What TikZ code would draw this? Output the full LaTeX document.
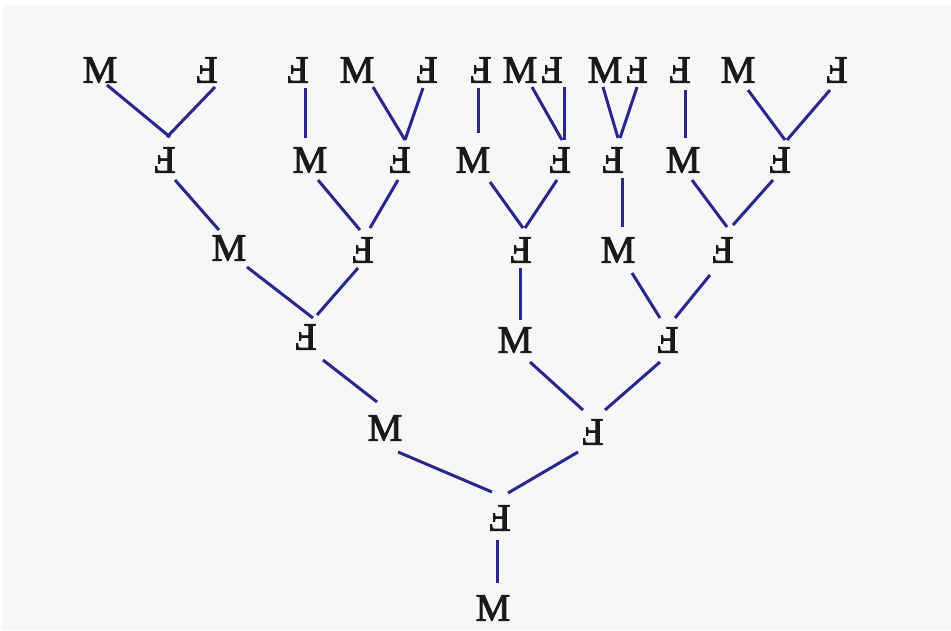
\documentclass[tikz,border=0pt]{standalone}
\usepackage{fontspec}
\setmainfont{Liberation Serif}
\newfontfamily\lblfont[FakeBold=2.2]{Liberation Serif}
\usetikzlibrary{calc}
\definecolor{bgc}{RGB}{247,247,247}
\definecolor{navy}{RGB}{40,40,140}
\newcommand{\rF}{\rotatebox{180}{F}}
\newcommand{\lnk}[4]{\draw[link] ($(#1)+(#2)$) -- ($(#3)+(#4)$);}
\begin{document}
\begin{tikzpicture}[x=1pt,y=-1pt,
  lbl/.style={inner sep=0pt, font=\lblfont\fontsize{39}{39}\selectfont, text=black!90},
  link/.style={draw=navy, line width=3pt}]
\useasboundingbox (0,0) rectangle (951,630);
\fill[white] (0,0) rectangle (951,630);
\fill[bgc] (2,5) rectangle (951,630);
% level 0-1
\node[lbl] (m0) at (493,608) {M};
\node[lbl] (f1) at (500,518) {\rF};
% level 2
\node[lbl] (m2) at (385,428) {M};
\node[lbl] (f2) at (593,432) {\rF};
% level 3
\node[lbl] (f3) at (306,337) {\rF};
\node[lbl] (m3) at (515,340) {M};
\node[lbl] (g3) at (668,340) {\rF};
% level 4
\node[lbl] (m4) at (229,248) {M};
\node[lbl] (f4) at (363,250) {\rF};
\node[lbl] (g4) at (521,250) {\rF};
\node[lbl] (n4) at (618,250) {M};
\node[lbl] (h4) at (723,250) {\rF};
% level 5
\node[lbl] (f5) at (165,160) {\rF};
\node[lbl] (m5) at (310,160) {M};
\node[lbl] (g5) at (400,160) {\rF};
\node[lbl] (n5) at (473,160) {M};
\node[lbl] (h5) at (560,160) {\rF};
\node[lbl] (i5) at (613,160) {\rF};
\node[lbl] (p5) at (683,160) {M};
\node[lbl] (j5) at (780,160) {\rF};
% level 6
\node[lbl] (a6) at (100,70) {M};
\node[lbl] (b6) at (207,70) {\rF};
\node[lbl] (c6) at (298,70) {\rF};
\node[lbl] (d6) at (357,70) {M};
\node[lbl] (e6) at (427,70) {\rF};
\node[lbl] (f6) at (481,70) {\rF};
\node[lbl] (g6) at (520,70) {M};
\node[lbl] (h6) at (552,70) {\rF};
\node[lbl] (i6) at (605,70) {M};
\node[lbl] (j6) at (637,70) {\rF};
\node[lbl] (k6) at (680,70) {\rF};
\node[lbl] (l6) at (738,70) {M};
\node[lbl] (m6) at (837,70) {\rF};
% connectors
\lnk{m0}{4,-25}{f1}{-3,22}
\lnk{f1}{-8,-26}{m2}{13,24}
\lnk{f1}{8,-25}{f2}{-15,20}
\lnk{m2}{-8,-26}{f3}{17,23}
\lnk{f2}{-10,-22}{m3}{15,22}
\lnk{f2}{12,-22}{g3}{-8,22}
\lnk{f3}{7,-19}{m4}{18,19}
\lnk{f3}{11,-22}{f4}{-5,18}
\lnk{m3}{5,-20}{g4}{-1,18}
\lnk{g3}{-8,-22}{n4}{14,23}
\lnk{g3}{7,-22}{h4}{-13,25}
\lnk{g4}{2,-22}{n5}{17,22}
\lnk{g4}{4,-22}{h5}{-3,20}
\lnk{n4}{4,-23}{i5}{9,18}
\lnk{h4}{4,-23}{p5}{9,20}
\lnk{h4}{10,-25}{j5}{-7,20}
\lnk{m4}{-10,-18}{f5}{10,20}
\lnk{f4}{-3,-20}{m5}{8,20}
\lnk{f4}{7,-22}{g5}{-2,20}
\lnk{f5}{5,-23}{a6}{7,15}
\lnk{f5}{2,-23}{b6}{8,17}
\lnk{m5}{-5,-22}{c6}{7,18}
\lnk{g5}{5,-20}{d6}{16,17}
\lnk{g5}{5,-20}{e6}{-4,18}
\lnk{n5}{5,-27}{f6}{-3,18}
\lnk{h5}{2,-20}{g6}{12,17}
\lnk{h5}{4,-20}{h6}{12,17}
\lnk{i5}{5,-22}{i6}{-2,17}
\lnk{i5}{7,-22}{j6}{0,17}
\lnk{p5}{2,-22}{k6}{5,20}
\lnk{j5}{5,-20}{l6}{10,20}
\lnk{j5}{7,-20}{m6}{-7,20}
\end{tikzpicture}
\end{document}
